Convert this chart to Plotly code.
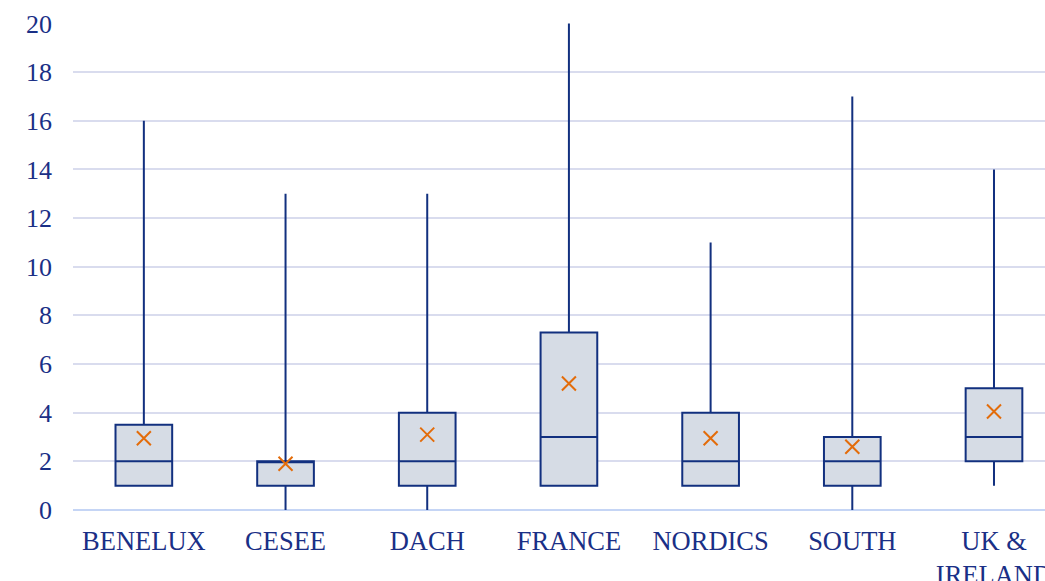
import plotly.graph_objects as go

categories = ["BENELUX", "CESEE", "DACH", "FRANCE", "NORDICS", "SOUTH", "UK &<br>IRELAND"]
lower = [1, 0, 0, 1, 1, 0, 1]
q1 = [1, 1, 1, 1, 1, 1, 2]
median = [2, 2, 2, 3, 2, 2, 3]
q3 = [3.5, 2, 4, 7.3, 4, 3, 5]
upper = [16, 13, 13, 20, 11, 17, 14]
mean = [2.95, 1.9, 3.1, 5.2, 2.95, 2.6, 4.05]
y_ticks = [0, 2, 4, 6, 8, 10, 12, 14, 16, 18, 20]

navy = "#12307f"
text_navy = "#1a2f86"
fig = go.Figure()
fig.add_trace(go.Box(
    x=categories, q1=q1, median=median, q3=q3,
    lowerfence=lower, upperfence=upper,
    fillcolor="#d6dce5", line=dict(color=navy, width=2),
    whiskerwidth=0, width=0.4, boxpoints=False, showlegend=False,
    hoverinfo="skip",
))
fig.add_trace(go.Scatter(
    x=categories, y=mean, mode="markers",
    marker=dict(symbol="x-thin", size=14, line=dict(color="#e36c0a", width=2)),
    showlegend=False, hoverinfo="skip",
))
font = dict(family="Liberation Serif, Times New Roman, serif", color=text_navy)
fig.update_layout(
    width=1045, height=581,
    margin=dict(l=73, r=0, t=23, b=71, autoexpand=False),
    plot_bgcolor="white", paper_bgcolor="white",
    font=font,
)
fig.update_xaxes(
    type="category", range=[-0.5, 6.36], showgrid=False, automargin=False,
    tickfont=dict(size=26.5, **font), ticks="", showline=False, zeroline=False,
    ticklabelstandoff=12,
)
fig.update_yaxes(
    range=[0, 20.02], tickvals=y_ticks, showgrid=True, gridcolor="#d9dcee", gridwidth=2,
    zeroline=True, zerolinecolor="#c5d5f5", zerolinewidth=2, automargin=False,
    tickfont=dict(size=26, **font), ticklabelstandoff=20, showline=False,
)
fig.write_html("out.html", config={"displayModeBar": False},
               post_script="document.body.style.margin='0';")
